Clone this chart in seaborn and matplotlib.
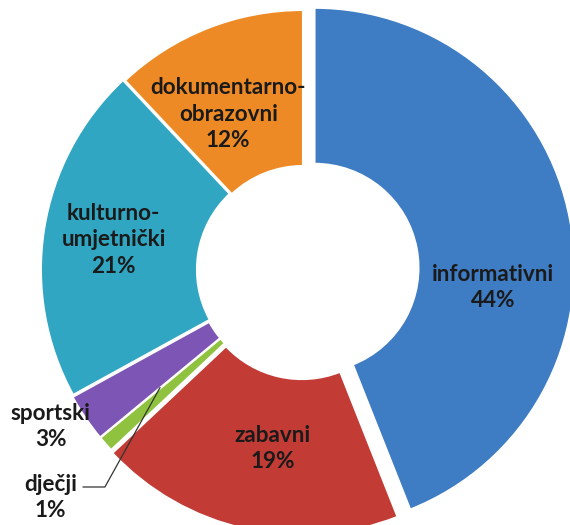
import numpy as np
import matplotlib
matplotlib.use("Agg")
import matplotlib.pyplot as plt
import seaborn as sns

# ----------------------------------------------------
# DATA
# ----------------------------------------------------

categories = ["informativni", "zabavni", "dječji", "sportski",
              "kulturno-\numjetnički", "dokumentarno-\nobrazovni"]
shares = [44, 19, 1, 3, 21, 12]
colors = ["#3e7cc4", "#c23b35", "#8fc33f", "#7d55b4", "#30a6c2", "#ee8a25"]

# ----------------------------------------------------
# LAYOUT
# ----------------------------------------------------

explode = [0.045, 0.02, 0.012, 0.012, 0.008, 0.0]
label_radius = [0.69, 0.675, 1.295, 1.13, 0.73, 0.665]
label_turn = [-17, 3, 0.6, -2.4, 0, 4]      # degrees added to wedge mid angle
ring_width = 0.60
FS = 16.2

sns.set_theme(style="white")
plt.rcParams["font.family"] = ["Lato", "DejaVu Sans"]

fig = plt.figure(figsize=(5.7, 5.25), dpi=100)
ax = fig.add_axes([0, 0, 1, 1])

wedges, _ = ax.pie(shares, colors=colors, explode=explode, startangle=90,
                   counterclock=False, radius=1.0,
                   wedgeprops=dict(width=ring_width, edgecolor="white", linewidth=1.5))

for i, w in enumerate(wedges):
    mid = np.deg2rad((w.theta1 + w.theta2) / 2 + label_turn[i])
    cx, cy = w.center
    tx = cx + label_radius[i] * np.cos(mid)
    ty = cy + label_radius[i] * np.sin(mid)
    text = f"{categories[i]}\n{shares[i]}%"
    if categories[i] == "dječji":
        # leader line from the label into the thin wedge
        wm = np.deg2rad((w.theta1 + w.theta2) / 2 - 2)
        px = cx + 0.70 * np.cos(wm)
        py = cy + 0.70 * np.sin(wm)
        ax.annotate(text, xy=(px, py), xytext=(tx, ty), ha="center", va="center",
                    fontsize=FS, fontweight="bold", color="#1a1a1a", linespacing=1.3,
                    arrowprops=dict(arrowstyle="-", color="#333333", lw=0.9,
                                    relpos=(1.0, 0.72), shrinkA=2, shrinkB=0,
                                    connectionstyle="angle,angleA=0,angleB=61,rad=0"))
    else:
        ax.text(tx, ty, text, ha="center", va="center", fontsize=FS,
                fontweight="bold", color="#1a1a1a", linespacing=1.3)

ax.set_xlim(-303 / 260, 267 / 260)
ax.set_ylim(-255 / 260, 270 / 260)
ax.set_aspect("equal")
ax.axis("off")

fig.savefig("out.png", dpi=100, facecolor="white")
